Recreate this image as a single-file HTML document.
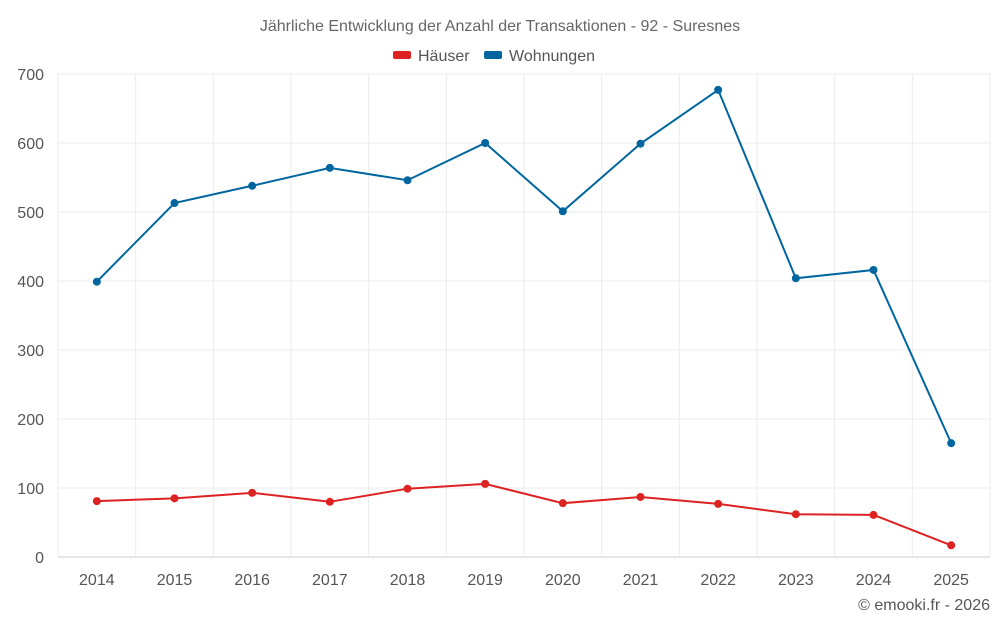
<!DOCTYPE html>
<html><head><meta charset="utf-8"><style>
body{margin:0;background:#fff;font-family:"Liberation Sans",sans-serif;}
svg text{font-family:"Liberation Sans",sans-serif;}
</style></head><body>
<svg id="chart" width="1000" height="625">
<text x="500" y="31" text-anchor="middle" font-size="16" fill="#666">Jährliche Entwicklung der Anzahl der Transaktionen - 92 - Suresnes</text>
<g>
<g><rect x="393" y="51" width="18" height="8" rx="2" fill="#dd2222"/><text x="418" y="61" font-size="16" fill="#555">Häuser</text></g>
<g><rect x="484" y="51" width="18" height="8" rx="2" fill="#0066a0"/><text x="509" y="61" font-size="16" fill="#555">Wohnungen</text></g>
</g>
<g id="grid"></g><g id="axes"></g><g id="series"></g>
<text x="990" y="610" text-anchor="end" font-size="16" fill="#555">© emooki.fr - 2026</text>
</svg>
<script>
const years=["2014","2015","2016","2017","2018","2019","2020","2021","2022","2023","2024","2025"];
const haeuser=[81,85,93,80,99,106,78,87,77,62,61,17];
const wohnungen=[399,513,538,564,546,600,501,599,677,404,416,165];
const yTicks=[0,100,200,300,400,500,600,700];
const NS="http://www.w3.org/2000/svg";
const L=58,R=990,T=74,B=557,yMax=700;
const band=(R-L)/years.length;
const xs=i=>L+band*(i+0.5);
const ys=v=>B-(v/yMax)*(B-T);
function mk(tag,attrs,parent){const e=document.createElementNS(NS,tag);for(const k in attrs)e.setAttribute(k,attrs[k]);parent.appendChild(e);return e;}
const grid=document.getElementById('grid'),axes=document.getElementById('axes'),series=document.getElementById('series');
yTicks.forEach(v=>{
 const l=mk('line',{x1:L,x2:R,y1:ys(v),y2:ys(v),stroke:v===0?'#ccc':'#ebebeb','stroke-width':1},grid);
 
 
 const t=mk('text',{x:44,y:ys(v)+6,'text-anchor':'end','font-size':16,fill:'#555'},axes);
 t.textContent=v;
 
 
});
for(let i=0;i<=years.length;i++){
 const l=mk('line',{x1:L+band*i,x2:L+band*i,y1:T,y2:B,stroke:'#ebebeb','stroke-width':1},grid);
 
 
}
years.forEach((y,i)=>{
 const t=mk('text',{x:xs(i),y:585,'text-anchor':'middle','font-size':16,fill:'#555'},axes);
 t.textContent=y;
 
 
});
function draw(data,color,name){
 const p=mk('polyline',{points:data.map((v,i)=>xs(i)+','+ys(v)).join(' '),fill:'none',stroke:color,'stroke-width':2},series);
 
 
 data.forEach((v,i)=>{
  const c=mk('circle',{cx:xs(i),cy:ys(v),r:4,fill:color},series);
  
  
 });
}
draw(haeuser,'#dd2222','haeuser');
draw(wohnungen,'#0066a0','wohnungen');
</script>
</body></html>
